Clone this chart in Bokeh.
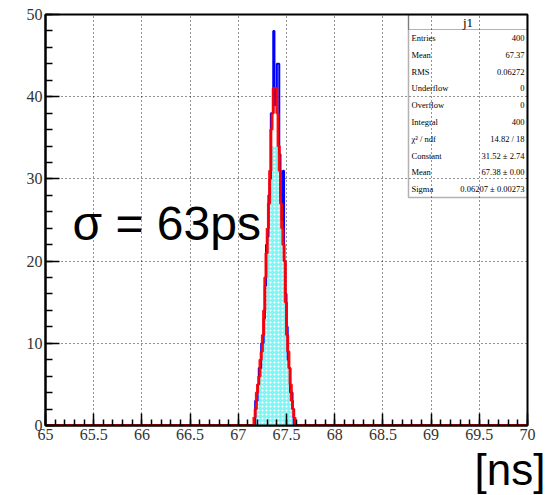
from bokeh.plotting import figure
from bokeh.models import (Range1d, FixedTicker, CustomJSTickFormatter, BoxAnnotation,
                          Label, ColumnDataSource, Title)
from bokeh.core.properties import value
from bokeh.embed import file_html
from bokeh.resources import INLINE

# ---------------- data ----------------
x_range_lim = [65.0, 70.0]
y_range_lim = [0.0, 50.0]
x_ticks = [65, 65.5, 66, 66.5, 67, 67.5, 68, 68.5, 69, 69.5, 70]
y_ticks = [0, 10, 20, 30, 40, 50]

bin_start = 67.15          # first non-empty bin edge [ns]
bin_width = 0.0125         # 400 bins over 65..70 ns

# blue histogram (j1) counts per bin
blue_counts = [0, 0, 3, 3, 5, 7, 7, 10, 10, 13, 17, 22, 23, 28, 30, 38, 38, 48,
               39, 41, 44, 44, 33, 28, 25, 31, 20, 16, 12, 8, 7, 4, 4, 2, 0, 0]
# red histogram outline counts per bin
red_counts = [0, 1, 2, 4, 5, 6, 8, 9, 11, 14, 18, 21, 24, 27, 31, 36, 38, 41,
              41, 41, 38, 34, 31, 27, 24, 22, 20, 15, 11, 9, 7, 5, 3, 2, 1, 0]
# cyan filled histogram counts per bin
cyan_counts = [0, 1, 2, 3, 5, 6, 7, 9, 10, 13, 17, 20, 22, 26, 30, 33, 34, 34,
               34, 34, 34, 33, 30, 26, 23, 21, 19, 14, 10, 8, 6, 4, 3, 1, 0, 0]

stat_title = "j1"
stat_names = ["Entries", "Mean", "RMS", "Underflow", "Overflow", "Integral",
              "χ² / ndf", "Constant", "Mean", "Sigma"]
stat_values = ["400", "67.37", "0.06272", "0", "0", "400",
               "14.82 / 18", "31.52 ± 2.74", "67.38 ± 0.00", "0.06207 ± 0.00273"]

annot_text = "σ = 63ps"
unit_text = "[ns]"

# ---------------- layout (pixels) ----------------
W, H = 549, 495
FL, FR, FT, FB = 45, 527, 14, 425
X0, X1 = x_range_lim
Y0, Y1 = y_range_lim


def px2x(px):
    return X0 + (px - FL) / (FR - FL) * (X1 - X0)


def px2y(py):
    return Y0 + (FB - py) / (FB - FT) * (Y1 - Y0)


def step_outline(counts):
    xs, ys = [X0, bin_start], [0, 0]
    for i, c in enumerate(counts):
        left = bin_start + i * bin_width
        xs += [left, left + bin_width]
        ys += [c, c]
    xs += [bin_start + len(counts) * bin_width, X1]
    ys += [0, 0]
    return xs, ys


p = figure(width=W, height=H, output_backend="svg", toolbar_location=None,
           x_range=Range1d(X0, X1), y_range=Range1d(Y0, Y1),
           min_border_left=FL, min_border_right=W - FR,
           min_border_top=FT, min_border_bottom=H - FB)
p.background_fill_color = "white"
p.border_fill_color = "white"
p.outline_line_color = "black"
p.outline_line_width = 2

minor_x = [round(65 + 0.1 * i, 1) for i in range(51)]
minor_y = list(range(0, 51, 2))
p.xaxis.ticker = FixedTicker(ticks=x_ticks, minor_ticks=minor_x)
p.yaxis.ticker = FixedTicker(ticks=y_ticks, minor_ticks=minor_y)
fmt = CustomJSTickFormatter(code="return String(Math.round(tick*10)/10);")
p.xaxis.formatter = fmt
p.yaxis.formatter = fmt

for ax in (p.xaxis, p.yaxis):
    ax.axis_line_color = "black"
    ax.axis_line_width = 2
    ax.major_tick_line_color = "black"
    ax.minor_tick_line_color = "black"
    ax.major_tick_line_width = 1.5
    ax.minor_tick_line_width = 1.5
    ax.major_tick_out = 0
    ax.minor_tick_out = 0
    ax.major_label_text_font = "Liberation Serif"
    ax.major_label_text_font_size = "16px"
    ax.major_label_text_color = "#333333"
p.xaxis.major_tick_in = 12
p.xaxis.minor_tick_in = 6
p.yaxis.major_tick_in = 14
p.yaxis.minor_tick_in = 7
p.xaxis.major_label_standoff = 3
p.yaxis.major_label_standoff = 3

for g in (p.xgrid, p.ygrid):
    g.grid_line_color = "black"
    g.grid_line_dash = "1 3"
    g.grid_line_width = 1
    g.grid_line_alpha = 0.85

# cyan filled histogram
cx, cy = step_outline(cyan_counts)
p.patch(cx, cy, fill_color="#86f3f3", line_color=None,
        hatch_pattern="dot", hatch_color="white", hatch_scale=4, hatch_weight=1)

# blue histogram
bx, by = step_outline(blue_counts)
p.line(bx, by, line_color="#0000ff", line_width=2)

# red histogram
rx, ry = step_outline(red_counts)
p.line(rx, ry, line_color="#ff0000", line_width=3, line_alpha=0.95)

# stats box
p.add_layout(BoxAnnotation(left=px2x(408), right=px2x(527), top=px2y(14), bottom=px2y(197),
                           fill_alpha=0, line_color="black", line_width=1.5))
p.add_layout(BoxAnnotation(left=px2x(408), right=px2x(527), top=px2y(14), bottom=px2y(29),
                           fill_alpha=0, line_color="black", line_width=1.2))
p.add_layout(Label(x=px2x(467.5), y=px2y(22), text=stat_title, text_align="center",
                   text_baseline="middle", text_font="Liberation Serif",
                   text_font_size="13px", text_color="black"))

row_h = (197 - 29) / len(stat_names)
ys = [px2y(29 + row_h * (i + 0.5)) for i in range(len(stat_names))]
src = ColumnDataSource(dict(xn=[px2x(411)] * len(stat_names), xv=[px2x(524)] * len(stat_names),
                            y=ys, n=stat_names, v=stat_values))
p.text(x="xn", y="y", text="n", source=src, text_align="left", text_baseline="middle",
       text_font=value("Liberation Serif"), text_font_size="8.5px", text_color="black")
p.text(x="xv", y="y", text="v", source=src, text_align="right", text_baseline="middle",
       text_font=value("Liberation Serif"), text_font_size="8.5px", text_color="black")

# sigma annotation
p.add_layout(Label(x=px2x(72), y=px2y(223), text=annot_text, text_align="left",
                   text_baseline="alphabetic", text_font="Liberation Sans",
                   text_font_size="48px", text_color="black"))

# unit text below the x axis
p.add_layout(Title(text=unit_text, align="right", offset=-18, standoff=0,
                   text_font="Liberation Sans", text_font_size="44px",
                   text_font_style="normal", text_color="black"), "below")

open("out.html", "w").write(file_html(p, INLINE))
